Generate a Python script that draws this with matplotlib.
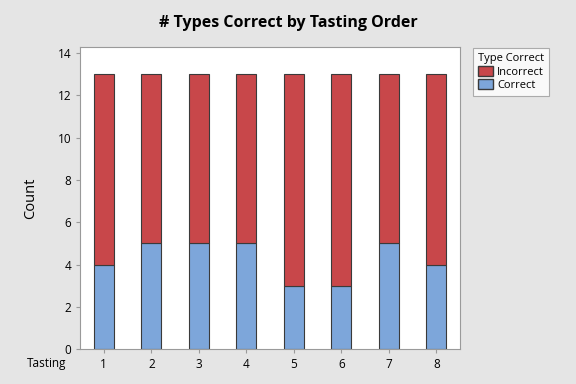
import matplotlib.pyplot as plt
from matplotlib.patches import Patch
import numpy as np

plt.rcParams['font.family'] = ['Open Sans', 'DejaVu Sans']

tastings = [1, 2, 3, 4, 5, 6, 7, 8]
correct = [4, 5, 5, 5, 3, 3, 5, 4]
incorrect = [9, 8, 8, 8, 10, 10, 8, 9]

red = "#C8474A"
blue = "#7DA6DA"
edge = "#3a3a3a"

fig = plt.figure(figsize=(5.76, 3.84), dpi=100, facecolor="#E5E5E5")
ax = fig.add_axes([0.139, 0.091, 0.66, 0.786])
ax.set_facecolor("white")

x = np.array(tastings)
ax.bar(x, correct, width=0.42, color=blue, edgecolor=edge, linewidth=0.8)
ax.bar(x, incorrect, width=0.42, bottom=correct, color=red,
       edgecolor=edge, linewidth=0.8)

ax.set_xlim(0.5, 8.5)
ax.set_ylim(0, 14.28)
ax.set_yticks(range(0, 15, 2))
ax.set_xticks(tastings)
for s in ax.spines.values():
    s.set_color("#9a9a9a")
ax.tick_params(colors="#9a9a9a", labelcolor="black", labelsize=8.5,
               length=3, width=0.8)

ax.set_ylabel("Count", fontsize=10.5, labelpad=14)
ax.text(-0.035, -0.047, "Tasting", transform=ax.transAxes, ha="right",
        va="center", fontsize=8.5)

fig.text(0.5, 0.94, "# Types Correct by Tasting Order", ha="center",
         va="center", fontsize=11.5, fontweight="bold")

handles = [Patch(facecolor=red, edgecolor=edge, label="Incorrect"),
           Patch(facecolor=blue, edgecolor=edge, label="Correct")]
leg = fig.legend(handles=handles, title="Type Correct", loc="upper left",
                 bbox_to_anchor=(0.821, 0.876), fontsize=8,
                 title_fontsize=8, frameon=True, fancybox=False,
                 handlelength=1.3, handleheight=1.0, handletextpad=0.4,
                 borderpad=0.45, labelspacing=0.1, alignment="right",
                 borderaxespad=0)
leg.get_frame().set_edgecolor("#9a9a9a")
leg.get_frame().set_linewidth(0.8)
leg._legend_box.sep = 2

plt.savefig("out.png", dpi=100, facecolor=fig.get_facecolor())
